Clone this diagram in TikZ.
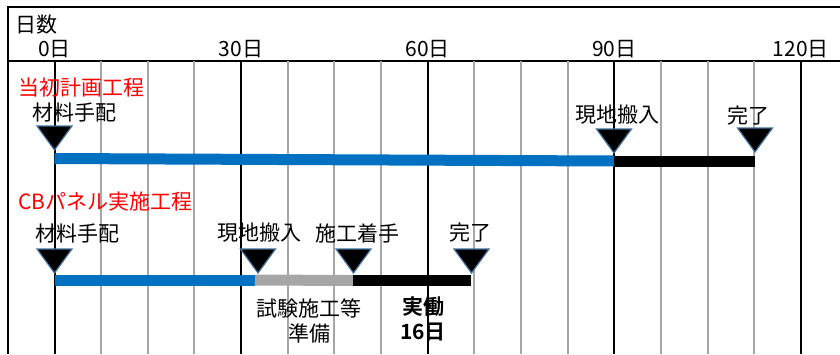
\documentclass[tikz,border=0pt]{standalone}
\usepackage{fontspec}
\setmainfont{Noto Sans CJK JP}[BoldFont={Noto Sans CJK JP Bold}]
\definecolor{barblue}{HTML}{0070C0}
\definecolor{bargray}{HTML}{A6A6A6}
\definecolor{triedge}{HTML}{41719C}
\tikzset{
  milestone/.pic={\draw[triedge,fill=black,line width=1.2pt,line join=miter] (0,0) -- (-17.5,-24) -- (17.5,-24) -- cycle;}
}
\begin{document}
\begin{tikzpicture}[x=1pt,y=-1pt,font=\fontsize{21}{25}\selectfont,
    frame/.style={line width=2pt,black},
    major/.style={line width=2pt,black},
    minor/.style={line width=2pt,bargray},
    bar/.style={line width=11pt}]
            \useasboundingbox (0,0) rectangle (840,354);
            % frame and day scale
            \draw[frame] (8,354) -- (8,7) -- (840,7);
            \draw[frame] (8,61) -- (840,61);
            \node (hdr) at (37,25) {日数};
            \foreach \i in {1,2,3,5,6,7,9,10,11,13,14,15}
                \draw[minor] ({54.5+46.65*\i},61) -- ({54.5+46.65*\i},354);
            \foreach \i/\days in {0/0,4/30,8/60,12/90,16/120}{
                \draw[major] ({54.5+46.65*\i},61) -- ({54.5+46.65*\i},354);
                \node (d\days) at ({54.5+46.65*\i},49) {\days{}日};
            }
            % planned schedule
            \node[red,anchor=west] (plan) at (15,88) {当初計画工程};
            \coordinate (a0) at (54.5,158.5);
            \coordinate (a90) at (614,161);
            \coordinate (a90b) at (614,161.5);
            \coordinate (aend) at (755,161.5);
            \draw[bar,barblue] (a0) -- (a90);
            \draw[bar,black] (a90b) -- (aend);
            \pic at (54.5,150) {milestone};
            \pic at (614,153) {milestone};
            \pic at (755,152) {milestone};
            \node (m1) at (74,113) {材料手配};
            \node (m2) at (617.5,115) {現地搬入};
            \node (m3) at (748,116) {完了};
            % CB panel schedule
            \node[red,anchor=west] (cb) at (15,202) {CBパネル実施工程};
            \coordinate (b0) at (54.5,280);
            \coordinate (b1) at (255,280);
            \coordinate (b2) at (353,280.5);
            \coordinate (b3) at (471,280.5);
            \draw[bar,barblue] (b0) -- (b1);
            \draw[bar,bargray] (b1) -- (b2);
            \draw[bar,black] (b2) -- (b3);
            \pic at (54.5,273) {milestone};
            \pic at (258,273) {milestone};
            \pic at (353.5,273) {milestone};
            \pic at (471.5,273) {milestone};
            \node (n1) at (77,234) {材料手配};
            \node (n2) at (259,233) {現地搬入};
            \node (n3) at (357,233) {施工着手};
            \node (n4) at (470,233) {完了};
            \node[align=center] (prep) at (309,321) {試験施工等\\準備};
            \node[align=center,font=\fontsize{21}{25}\selectfont\bfseries] (work) at (423,319) {実働\\16日};
        \end{tikzpicture}
\end{document}
